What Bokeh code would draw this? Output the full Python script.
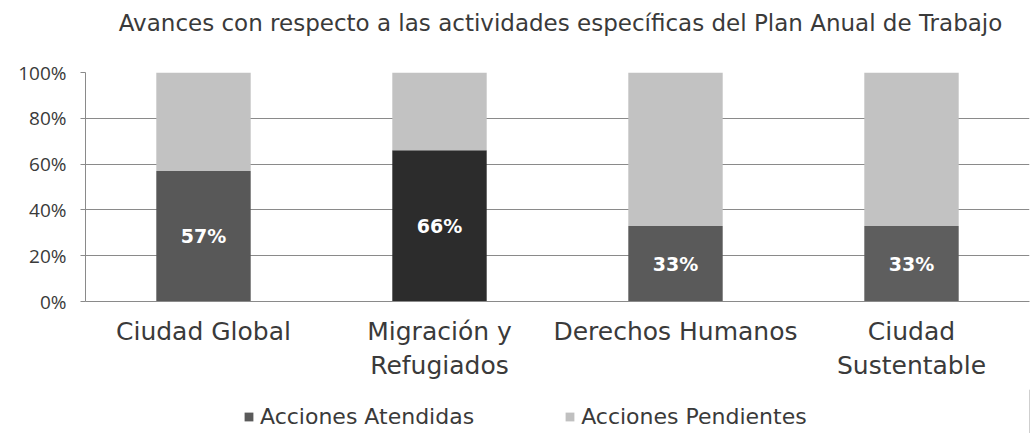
from bokeh.plotting import figure
from bokeh.layouts import column
from bokeh.models import ColumnDataSource, Legend, LegendItem, FactorRange, NumeralTickFormatter, Range1d, FixedTicker
from bokeh.core.properties import value
from bokeh.embed import file_html
from bokeh.resources import INLINE

title_text = "Avances con respecto a las actividades específicas del Plan Anual de Trabajo"
categories = ["Ciudad Global", "Migración y\nRefugiados", "Derechos Humanos", "Ciudad\nSustentable"]
atendidas = [0.57, 0.66, 0.33, 0.33]
pendientes = [0.43, 0.34, 0.67, 0.67]
labels = ["57%", "66%", "33%", "33%"]
atendidas_colors = ["#585858", "#2c2c2c", "#5a5a5a", "#5e5e5e"]
legend_colors = ["#5a5a5a", "#c0c0c0"]
series_names = ["Acciones Atendidas", "Acciones Pendientes"]

FONT = "DejaVu Sans"
TXT = "#3a3a3a"
W = 1031
LEFT = 85
RIGHT = 2

# title strip (frame aligned with the main plot's frame by the column layout)
tt = figure(width=W, height=44, output_backend="svg", toolbar_location=None,
            x_range=Range1d(LEFT, W - RIGHT), y_range=Range1d(0, 44),
            min_border_left=LEFT, min_border_right=RIGHT, min_border_top=0, min_border_bottom=0)
tt.xaxis.visible = False
tt.yaxis.visible = False
tt.grid.grid_line_color = None
tt.outline_line_color = None
tt.text(x=[560], y=[22], text=[title_text], text_font=value(FONT), text_font_size="23px",
        text_color=TXT, text_align="center", text_baseline="middle")

src = ColumnDataSource(dict(
    cat=categories,
    at=atendidas,
    pe=pendientes,
    top=[a + b for a, b in zip(atendidas, pendientes)],
    mid=[a / 2 for a in atendidas],
    lab=labels,
    col=atendidas_colors,
))

p = figure(x_range=FactorRange(*categories), y_range=Range1d(0, 1.0),
           frame_width=W - LEFT - RIGHT, frame_height=229, output_backend="svg", toolbar_location=None,
           min_border_left=LEFT, min_border_right=RIGHT, min_border_top=28, min_border_bottom=88)

p.vbar(x="cat", bottom=0, top="at", width=0.4, source=src, fill_color="col", line_color=None)
p.vbar(x="cat", bottom="at", top="top", width=0.4, source=src, fill_color="#c2c2c2", line_color=None)

p.text(x="cat", y="mid", text="lab", source=src, text_color="white", text_font=value(FONT),
       text_font_style="bold", text_font_size="19px", text_align="center", text_baseline="middle")

p.yaxis.ticker = FixedTicker(ticks=[0, 0.2, 0.4, 0.6, 0.8, 1.0])
p.yaxis.formatter = NumeralTickFormatter(format="0%")
p.yaxis.major_label_text_font = "Open Sans"
p.yaxis.major_label_text_font_size = "19px"
p.yaxis.major_label_text_color = TXT
p.yaxis.major_label_standoff = 14
p.yaxis.axis_line_color = "#8a8a8a"
p.yaxis.major_tick_line_color = "#8a8a8a"
p.yaxis.major_tick_out = 5
p.yaxis.major_tick_in = 0
p.yaxis.minor_tick_line_color = None

p.xaxis.major_label_text_font = FONT
p.xaxis.major_label_text_font_size = "25px"
p.xaxis.major_label_text_color = TXT
p.xaxis.axis_line_color = "#8a8a8a"
p.xaxis.major_tick_line_color = None
p.xaxis.major_label_standoff = 9

p.xgrid.grid_line_color = None
p.ygrid.grid_line_color = "#8a8a8a"
p.ygrid.grid_line_width = 1
p.outline_line_color = None
p.x_range.range_padding = 0.0

# legend strip
lg = figure(width=W, height=44, output_backend="svg", toolbar_location=None,
            x_range=Range1d(0, 1), y_range=Range1d(0, 1),
            min_border_left=LEFT, min_border_right=RIGHT, min_border_top=0, min_border_bottom=0)
lg.xaxis.visible = False
lg.yaxis.visible = False
lg.grid.grid_line_color = None
lg.outline_line_color = None
d1 = lg.vbar(x=[5], top=[5], width=0.1, fill_color=legend_colors[0], line_color=None)
d2 = lg.vbar(x=[5], top=[5], width=0.1, fill_color=legend_colors[1], line_color=None)
legend = Legend(items=[LegendItem(label=series_names[0], renderers=[d1]),
                       LegendItem(label=series_names[1], renderers=[d2])],
                orientation="horizontal", location=(158, 4))
legend.label_text_font = FONT
legend.label_text_font_size = "22px"
legend.label_text_color = TXT
legend.glyph_width = 11
legend.glyph_height = 11
legend.spacing = 90
legend.label_standoff = 6
legend.border_line_color = None
legend.background_fill_alpha = 0
legend.padding = 2
legend.margin = 0
lg.add_layout(legend, "center")

layout = column(tt, p, lg, spacing=0)
open("out.html", "w").write(file_html(layout, INLINE))
